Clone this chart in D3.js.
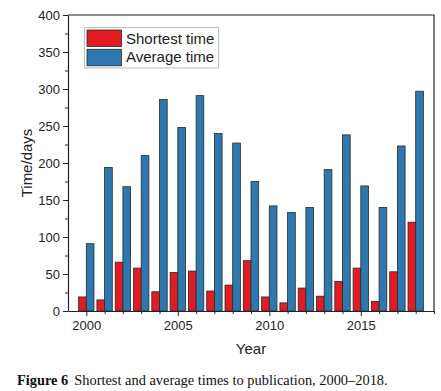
<!DOCTYPE html>
<html lang="en">
<head>
    <meta charset="UTF-8">
    <title>Shortest and average times to publication</title>
    <script src="https://d3js.org/d3.v7.min.js"></script>
    <style>
        body { margin: 0; background: #fff; }
        .axis text { font-family: Arial, "Liberation Sans", sans-serif; font-size: 13px; fill: #222; }
        .axis path, .axis line { stroke: #222; }
    </style>
</head>
<body>
    <div id="chart"></div>

    <script>
        const width = 441, height = 391;
        const plotL = 68, plotR = 434, plotT = 15, plotB = 311;

        // Data
        const years = [2000, 2001, 2002, 2003, 2004, 2005, 2006, 2007, 2008, 2009,
                       2010, 2011, 2012, 2013, 2014, 2015, 2016, 2017, 2018];
        const shortest = [19, 15, 66, 58, 26, 52, 54, 27, 35, 68,
                          19, 11, 31, 20, 40, 58, 13, 53, 120];
        const average = [91, 194, 168, 210, 286, 248, 291, 240, 227, 175,
                         142, 133, 140, 191, 238, 169, 140, 223, 297];
        const yTicks = [0, 50, 100, 150, 200, 250, 300, 350, 400];
        const xTicks = [2000, 2005, 2010, 2015];

        const red = "#e31b23", blue = "#2e78b0";

        const x = d3.scaleLinear().domain([1999, 2019]).range([plotL, plotR]);
        const y = d3.scaleLinear().domain([0, 400]).range([plotB, plotT]);
        const barW = (x(2001) - x(2000)) * 0.42;

        const svg = d3.select("#chart").append("svg")
            .attr("width", width).attr("height", height);

        // Bars
        const g = svg.append("g");
        g.selectAll(".short").data(years).enter().append("rect")
            .attr("x", (d, i) => x(d) - barW)
            .attr("y", (d, i) => y(shortest[i]))
            .attr("width", barW)
            .attr("height", (d, i) => y(0) - y(shortest[i]))
            .attr("fill", red).attr("stroke", "#2a2a2a").attr("stroke-width", 0.8);
        g.selectAll(".avg").data(years).enter().append("rect")
            .attr("x", d => x(d))
            .attr("y", (d, i) => y(average[i]))
            .attr("width", barW)
            .attr("height", (d, i) => y(0) - y(average[i]))
            .attr("fill", blue).attr("stroke", "#2a2a2a").attr("stroke-width", 0.8);

        // Frame (top and right)
        svg.append("path")
            .attr("d", `M${plotL},${plotT}H${plotR}V${plotB}`)
            .attr("fill", "none").attr("stroke", "#222").attr("stroke-width", 1.2);

        // Minor ticks
        const yMinor = d3.range(25, 400, 50);
        svg.append("g").attr("class", "axis")
            .attr("transform", `translate(${plotL},0)`)
            .call(d3.axisLeft(y).tickValues(yMinor).tickSize(3).tickFormat(""))
            .call(s => s.select(".domain").remove());
        const xMinor = years.filter(d => d % 5 !== 0).concat([2019]);
        svg.append("g").attr("class", "axis")
            .attr("transform", `translate(0,${plotB})`)
            .call(d3.axisBottom(x).tickValues(xMinor).tickSize(3).tickFormat(""))
            .call(s => s.select(".domain").remove());

        // Major axes
        svg.append("g").attr("class", "axis")
            .attr("transform", `translate(${plotL},0)`)
            .call(d3.axisLeft(y).tickValues(yTicks).tickSize(5).tickSizeOuter(0).tickPadding(3))
            .call(s => s.select(".domain").attr("stroke-width", 1.2));
        svg.append("g").attr("class", "axis")
            .attr("transform", `translate(0,${plotB})`)
            .call(d3.axisBottom(x).tickValues(xTicks).tickFormat(d3.format("d")).tickSize(5).tickSizeOuter(0).tickPadding(5))
            .call(s => s.select(".domain").attr("stroke-width", 1.2));

        // Axis titles
        svg.append("text")
            .attr("x", (plotL + plotR) / 2).attr("y", 354)
            .attr("text-anchor", "middle")
            .style("font-family", "Arial, 'Liberation Sans', sans-serif").style("font-size", "15px")
            .attr("fill", "#222")
            .text("Year");
        svg.append("text")
            .attr("transform", "rotate(-90)")
            .attr("x", -(plotT + plotB) / 2).attr("y", 32)
            .attr("text-anchor", "middle")
            .style("font-family", "Arial, 'Liberation Sans', sans-serif").style("font-size", "15px")
            .attr("fill", "#222")
            .text("Time/days");

        // Legend
        const legend = svg.append("g");
        legend.append("rect")
            .attr("x", 84.5).attr("y", 27.5).attr("width", 134).attr("height", 40.5)
            .attr("fill", "#fff").attr("stroke", "#bbb").attr("stroke-width", 1);
        const legendItems = [["Shortest time", red], ["Average time", blue]];
        legendItems.forEach(([label, color], i) => {
            legend.append("rect")
                .attr("x", 87).attr("y", 30 + i * 19.3).attr("width", 34.5).attr("height", 16.5)
                .attr("fill", color).attr("stroke", "#2a2a2a").attr("stroke-width", 0.8);
            legend.append("text")
                .attr("x", 126).attr("y", 43.5 + i * 18.3)
                .style("font-family", "Arial, 'Liberation Sans', sans-serif").style("font-size", "15px")
                .attr("fill", "#222")
                .text(label);
        });

        // Caption
        const cap = svg.append("text")
            .attr("x", 17).attr("y", 385)
            .style("font-family", "'Liberation Serif', 'DejaVu Serif', serif").style("font-size", "14.4px")
            .attr("fill", "#111");
        cap.append("tspan").style("font-weight", "bold").text("Figure 6");
        cap.append("tspan").attr("dx", 6).text("Shortest and average times to publication, 2000\u20132018.");
    </script>
</body>
</html>
